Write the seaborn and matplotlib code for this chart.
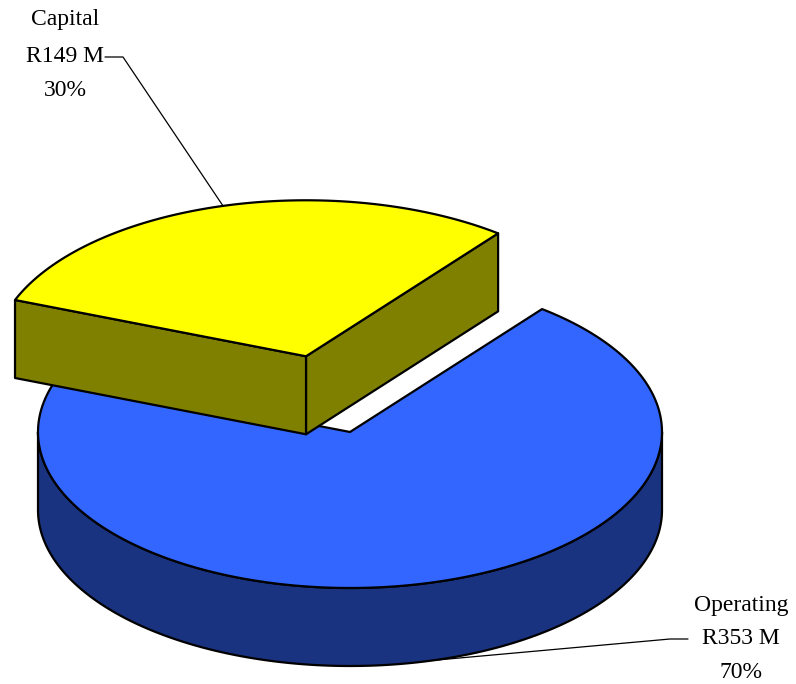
import numpy as np
import matplotlib
matplotlib.use("Agg")
import matplotlib.pyplot as plt
import seaborn as sns

# Budget split (R million)
categories = ["Capital", "Operating"]
amounts = [149, 353]
top_colors = ["#FFFF00", "#3366FF"]
side_colors = ["#808000", "#1A3380"]
explode = [0.53, 0.0]
start_angle = 52.0          # degrees, counter-clockwise from 3 o'clock

sns.set_theme(style="white")
plt.rcParams["font.family"] = ["Liberation Serif", "DejaVu Serif"]

W, H = 796, 684
fig = plt.figure(figsize=(W / 100, H / 100), dpi=100)
ax = fig.add_axes([0, 0, 1, 1])
ax.set_xlim(0, W)
ax.set_ylim(H, 0)
ax.axis("off")

# Projected pie geometry
cx, cy = 350, 432
rx, ry = 312, 156
depth = 78


def pt(t, off, z=0.0):
    r = np.radians(t)
    return (cx + off[0] + rx * np.cos(r), cy + off[1] - ry * np.sin(r) + z)


def arc(t0, t1, off, z=0.0, n=200):
    ts = np.linspace(t0, t1, n)
    return [pt(t, off, z) for t in ts]


total = sum(amounts)
spans = [a / total * 360.0 for a in amounts]
starts = [start_angle + sum(spans[:i]) for i in range(len(amounts))]

edge_kw = dict(edgecolor="black", linewidth=1.6, joinstyle="round")

slices = []
for i in range(len(amounts)):
    t0, t1 = starts[i], starts[i] + spans[i]
    mid = np.radians((t0 + t1) / 2)
    off = (explode[i] * rx * np.cos(mid), -explode[i] * ry * np.sin(mid) * 0.95)
    slices.append((t0, t1, off))

# back-to-front: the exploded slice is painted last
for i in reversed(range(len(amounts))):
    t0, t1, off = slices[i]
    centre = (cx + off[0], cy + off[1])
    centre_b = (centre[0], centre[1] + depth)

    # radial walls facing the viewer
    for t, visible in ((t0, np.cos(np.radians(t0)) > 0),
                       (t1, np.cos(np.radians(t1)) < 0)):
        if visible:
            p, pb = pt(t, off), pt(t, off, depth)
            poly = np.array([centre, p, pb, centre_b])
            ax.fill(poly[:, 0], poly[:, 1], facecolor=side_colors[i], **edge_kw)

    # curved outer wall on the front half
    for k in range(-1, 3):
        lo = max(t0, 180 + 360 * k)
        hi = min(t1, 360 + 360 * k)
        if hi > lo:
            top = arc(lo, hi, off)
            bot = arc(hi, lo, off, depth)
            poly = np.array(top + bot)
            ax.fill(poly[:, 0], poly[:, 1], facecolor=side_colors[i], **edge_kw)

    # top face
    poly = np.array([centre] + arc(t0, t1, off) + [centre])
    ax.fill(poly[:, 0], poly[:, 1], facecolor=top_colors[i], **edge_kw)

# labels with leader lines
label_pos = [(65, [20, 57, 90]), (741, [605, 639, 672])]
fs = 17
for i, name in enumerate(categories):
    t0, t1, off = slices[i]
    pct = round(amounts[i] / total * 100)
    x, ys = label_pos[i]
    for txt, y in zip([name, f"R{amounts[i]} M", f"{pct}%"], ys):
        ax.text(x, y, txt, ha="center", va="center", fontsize=fs, color="black")

# Capital leader: from text right side to top rim of its slice
t0, t1, off = slices[0]
tip = pt((t0 + t1) / 2, off)
ax.plot([105, 123, tip[0]], [57, 57, tip[1]], color="black", lw=0.9)

# Operating leader: from text left side to bottom rim of its slice
t0, t1, off = slices[1]
tip = pt((t0 + t1) / 2, off, depth)
ax.plot([688, 670, tip[0]], [639, 639, tip[1]], color="black", lw=0.9)

fig.savefig("out.png", dpi=100, facecolor="white")
